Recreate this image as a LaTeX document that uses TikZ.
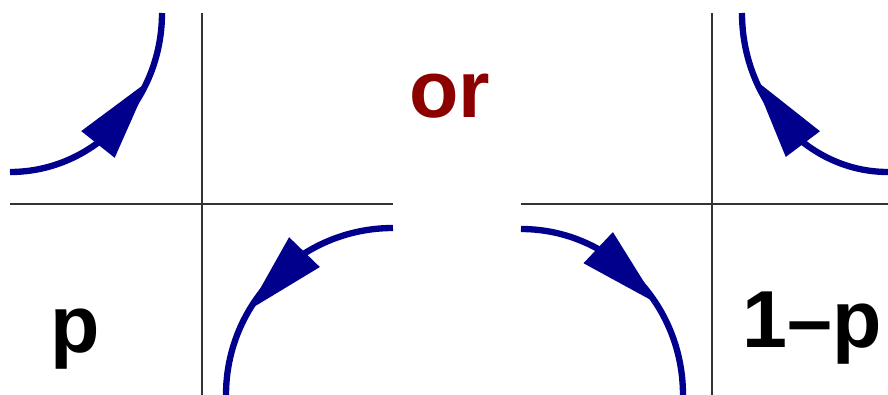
\documentclass[tikz,border=0pt]{standalone}
\usepackage{fontspec}
\setmainfont{Liberation Sans}
\usetikzlibrary{arrows.meta,decorations.markings}
\definecolor{loopblue}{RGB}{0,0,140}
\definecolor{orred}{RGB}{140,0,0}
\begin{document}
\begin{tikzpicture}[
  every node/.style={font=\fontsize{23}{28}\selectfont\bfseries, inner sep=0pt},
  axis/.style={black!80, line width=0.5pt},
  % #1 = middle of the head along the arc, #2 = sideways nudge
  flowarc/.style 2 args={loopblue, line width=1.8pt, postaction={decorate},
    decoration={markings, mark=at position #1 with
      {\arrow[xshift=4.1mm, yshift=#2]{Triangle[length=8.2mm,width=4.1mm]}}}}]
  \useasboundingbox (0,0) rectangle (8.88,3.95);
  % crossing levels
  \def\ya{1.91} \def\yt{3.82}
  % --- p panel ---
  \draw[axis] (0.10,\ya) -- (3.93,\ya);
  \draw[axis] (2.02,0) -- (2.02,\yt);
  \draw[flowarc={0.55}{0.4mm}] (0.10,2.23) arc[start angle=270, end angle=360, x radius=1.52, y radius=1.59];
  \draw[flowarc={0.51}{0.4mm}] (3.93,1.67) arc[start angle=90, end angle=180, radius=1.67];
  \node[anchor=base] (p) at (0.75,0.43) {p};
  % --- or ---
  \node[anchor=base, text=orred] (or) at (4.50,2.78) {or};
  % --- 1-p panel ---
  \draw[axis] (5.21,\ya) -- (8.88,\ya);
  \draw[axis] (7.12,0) -- (7.12,\yt);
  \draw[flowarc={0.55}{-0.4mm}] (8.88,2.23) arc[start angle=270, end angle=180, x radius=1.46, y radius=1.59];
  \draw[flowarc={0.47}{-0.4mm}] (5.21,1.66) arc[start angle=90, end angle=0, x radius=1.62, y radius=1.66];
  \node[anchor=base] (q) at (8.12,0.47) {1--p};
\end{tikzpicture}
\end{document}
